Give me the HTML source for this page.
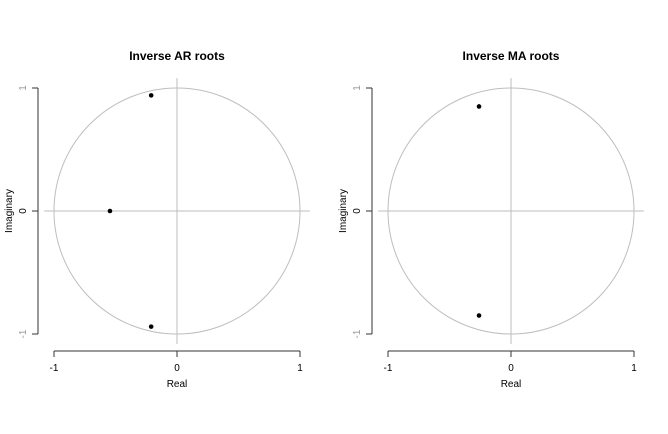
<!DOCTYPE html>
<html><head><meta charset="utf-8"><style>
body{margin:0;background:#fff}
svg{display:block;font-family:"Liberation Sans",sans-serif}
</style></head><body>
<svg id="chart" width="668" height="434" viewBox="0 0 668 434"></svg>
<script>
const panelTitles = ["Inverse AR roots", "Inverse MA roots"];
const arRe = [-0.21, -0.545, -0.21];
const arIm = [0.94, 0.0, -0.94];
const maRe = [-0.26, -0.26];
const maIm = [0.85, -0.85];
const tickVals = [-1, 0, 1];
const tickLabels = ["-1", "0", "1"];

const NS = "http://www.w3.org/2000/svg";
const svg = document.getElementById("chart");
function mk(tag, attrs, parent){const e=document.createElementNS(NS,tag);for(const k in attrs)e.setAttribute(k,attrs[k]);(parent||svg).appendChild(e);return e;}

const panels = [{cx:177, title:panelTitles[0], re:arRe, im:arIm, key:"ar"},{cx:511, title:panelTitles[1], re:maRe, im:maIm, key:"ma"}];
const cy = 211, R = 123;
panels.forEach(p=>{
  const g = mk("g",{});
  
  
  const sx = v => p.cx + v*R, sy = v => cy - v*R;
  const t = mk("text",{x:p.cx,y:60,"text-anchor":"middle","font-size":12,"font-weight":"bold",fill:"#000"},g);
  t.textContent = p.title;
  
  
  const hl = mk("line",{x1:sx(-1.08),x2:sx(1.08),y1:cy,y2:cy,stroke:"#bebebe","stroke-width":1},g);
  
  
  const vl = mk("line",{x1:p.cx,x2:p.cx,y1:sy(1.08),y2:sy(-1.08),stroke:"#bebebe","stroke-width":1},g);
  
  
  const c = mk("circle",{cx:p.cx,cy:cy,r:R,fill:"none",stroke:"#bebebe","stroke-width":1},g);
  
  
  // x axis
  const ax = p.cx - 139;
  const xa = mk("line",{x1:sx(-1),x2:sx(1),y1:351,y2:351,stroke:"#333","stroke-width":1},g);
  
  
  tickVals.forEach((v,i)=>{
    mk("line",{x1:sx(v),x2:sx(v),y1:351,y2:357,stroke:"#333"},g);
    const tl = mk("text",{x:sx(v),y:371,"text-anchor":"middle","font-size":10,fill:"#000"},g);
    tl.textContent = tickLabels[i];
    
    
  });
  const xt = mk("text",{x:p.cx,y:387,"text-anchor":"middle","font-size":10,fill:"#000"},g);
  xt.textContent = "Real";
  
  
  // y axis
  const ya = mk("line",{x1:ax,x2:ax,y1:sy(1),y2:sy(-1),stroke:"#333","stroke-width":1},g);
  
  
  tickVals.forEach((v,i)=>{
    mk("line",{x1:ax-6,x2:ax,y1:sy(v),y2:sy(v),stroke:"#333"},g);
    const tl = mk("text",{x:ax-12,y:sy(v),"text-anchor":"middle","font-size":10,fill:v===0?"#000":"#999",transform:`rotate(-90 ${ax-12} ${sy(v)})`},g);
    tl.textContent = tickLabels[i];
    
    
  });
  const yt = mk("text",{x:ax-26,y:cy,"text-anchor":"middle","font-size":10,fill:"#000",transform:`rotate(-90 ${ax-26} ${cy})`},g);
  yt.textContent = "Imaginary";
  
  
  p.re.forEach((r,i)=>{
    const pt = mk("circle",{cx:sx(r),cy:sy(p.im[i]),r:2.3,fill:"#000"},g);
    
    
  });
});
</script>
</body></html>
